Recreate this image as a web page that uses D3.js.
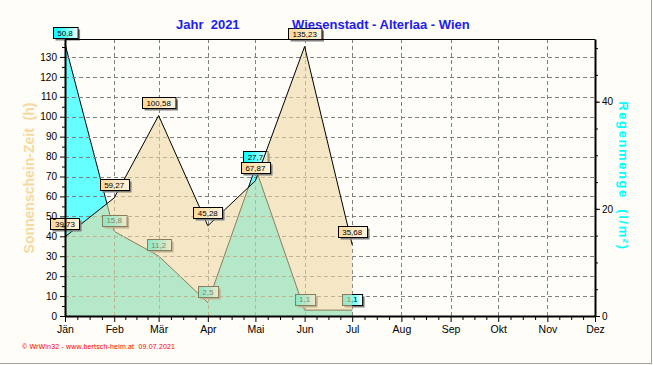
<!DOCTYPE html>
<html><head><meta charset="utf-8">
<script src="https://cdn.jsdelivr.net/npm/d3@7"></script>
<style>
html,body{margin:0;padding:0;background:#FEFDF8;}
svg{display:block;font-family:Arial,"Liberation Sans",sans-serif;}
</style></head>
<body>
<svg id="c" width="653" height="365"></svg>
<script>
// ---- data ----
const months = ["Jän","Feb","Mär","Apr","Mai","Jun","Jul","Aug","Sep","Okt","Nov","Dez"];
const sunshine = [39.73, 59.27, 100.58, 45.28, 67.87, 135.23, 35.68];   // hours, left axis
const rain = [50.8, 15.8, 11.2, 2.5, 27.7, 1.1, 1.1];                    // l/m², right axis
const sunshineLabels = ["39,73","59,27","100,58","45,28","67,87","135,23","35,68"];
const rainLabels = ["50,8","15,8","11,2","2,5","27,7","1,1","1,1"];
const leftTicks = [0,10,20,30,40,50,60,70,80,90,100,110,120,130];
const rightTicks = [0,20,40];
const titleLeft = "Jahr  2021";
const titleRight = "Wiesenstadt - Alterlaa - Wien";
const footer = "© WrWin32 - www.bertsch-heim.at  09.07.2021";

const svg = d3.select("#c");
const L = 65, R = 595, T = 39, B = 316;
const monthDates = months.map((m,i)=>new Date(2021,i,1));
const x = d3.scaleTime().domain([monthDates[0], monthDates[11]]).range([L,R]);
const yL = d3.scaleLinear().domain([0,139]).range([B,T]);
const yR = d3.scaleLinear().domain([0,51.7]).range([B,T]);

svg.append("rect").attr("width",653).attr("height",365).attr("fill","#FEFDF8");

const defs = svg.append("defs");
const gS = defs.append("linearGradient").attr("id","gS");
gS.append("stop").attr("offset","0").attr("stop-color","#FFD899");
gS.append("stop").attr("offset","1").attr("stop-color","#FFF4DE");
const gR = defs.append("linearGradient").attr("id","gR");
gR.append("stop").attr("offset","0").attr("stop-color","#00FFFF");
gR.append("stop").attr("offset","0.6").attr("stop-color","#7FFFFF");
gR.append("stop").attr("offset","1").attr("stop-color","#FFFFFF");

// rain area (cyan)
const rainPts = rain.map((v,i)=>({d:monthDates[i], v}));
svg.append("path").datum(rainPts)
  .attr("d", d3.area().x(d=>x(d.d)).y0(yR(0)).y1(d=>yR(d.v)))
  .attr("fill","#66FFFF");
svg.append("path").datum(rainPts)
  .attr("d", d3.line().x(d=>x(d.d)).y(d=>yR(d.v)))
  .attr("fill","none").attr("stroke","#000").attr("stroke-width",1);

// grid
const grid = svg.append("g").attr("stroke","#808080").attr("stroke-dasharray","4,3").attr("stroke-width",1);
leftTicks.filter(t=>t>0).forEach(t=>{
  grid.append("line").attr("x1",L).attr("x2",R).attr("y1",Math.round(yL(t))+0.5).attr("y2",Math.round(yL(t))+0.5);
});
monthDates.slice(1,11).forEach(d=>{
  grid.append("line").attr("y1",T).attr("y2",B).attr("x1",Math.round(x(d))+0.5).attr("x2",Math.round(x(d))+0.5);
});

function labels(vals, txts, scale, off, fill){
  const g = svg.append("g");
  vals.forEach((v,i)=>{
    const cx = x(monthDates[i]), cy = scale(v)-off;
    const t = g.append("text").attr("font-size","8px").attr("text-anchor","middle")
      .attr("x",cx).attr("y",cy+3).attr("fill","#000").text(txts[i]);
    const w = t.node().getComputedTextLength()+9, h = 11;
    g.insert("rect", function(){return t.node();}).attr("x",Math.round(cx-w/2)+2.5).attr("y",Math.round(cy-h/2)+2.5)
      .attr("width",w).attr("height",h).attr("fill","#808080");
    g.insert("rect", function(){return t.node();}).attr("x",Math.round(cx-w/2)+0.5).attr("y",Math.round(cy-h/2)+0.5)
      .attr("width",w).attr("height",h).attr("fill",fill).attr("stroke","#000");
  });
}
// rain labels (under overlay)
labels(rain, rainLabels, yR, 11, "url(#gR)");

// sunshine area overlay
const sunPts = sunshine.map((v,i)=>({d:monthDates[i], v}));
svg.append("path").datum(sunPts)
  .attr("d", d3.area().x(d=>x(d.d)).y0(yL(0)).y1(d=>yL(d.v)))
  .attr("fill","rgb(238,216,160)").attr("fill-opacity",0.58);
svg.append("path").datum(sunPts)
  .attr("d", d3.line().x(d=>x(d.d)).y(d=>yL(d.v)))
  .attr("fill","none").attr("stroke","#000").attr("stroke-width",1);

labels(sunshine, sunshineLabels, yL, 13, "url(#gS)");

// axes
const axStyle = g=>{
  g.selectAll("text").attr("fill","#000").attr("font-family","Arial,'Liberation Sans',sans-serif");
  g.selectAll("line").attr("stroke","#000");
};
// left
svg.append("g").attr("transform",`translate(${L},0)`)
  .call(d3.axisLeft(yL).tickValues(d3.range(5,139,10)).tickSize(3).tickFormat(""))
  .call(g=>g.select(".domain").remove()).call(axStyle);
svg.append("g").attr("transform",`translate(${L},0)`)
  .call(d3.axisLeft(yL).tickValues(leftTicks).tickSize(5).tickPadding(3).tickSizeOuter(0))
  .call(g=>g.selectAll("text").attr("font-size","10px"))
  .call(g=>g.select(".domain").attr("stroke","#000").attr("stroke-width",2))
  .call(axStyle);
// bottom minor
const minor = [];
for(let i=0;i<11;i++){ const a=+monthDates[i], b=+monthDates[i+1]; for(let k=1;k<4;k++) minor.push(new Date(a+(b-a)*k/4)); }
svg.append("g").attr("transform",`translate(0,${B})`)
  .call(d3.axisBottom(x).tickValues(minor).tickSize(4).tickFormat(""))
  .call(g=>g.select(".domain").remove()).call(axStyle);
svg.append("g").attr("transform",`translate(0,${B})`)
  .call(d3.axisBottom(x).tickValues(monthDates).tickSize(6).tickPadding(4).tickSizeOuter(0).tickFormat((d,i)=>months[i]))
  .call(g=>g.selectAll("text").attr("font-size","10.5px"))
  .call(g=>g.select(".domain").attr("stroke","#000").attr("stroke-width",2))
  .call(axStyle);
// right
svg.append("g").attr("transform",`translate(${R},0)`)
  .call(d3.axisRight(yR).tickValues(d3.range(5,51,5)).tickSize(3).tickFormat(""))
  .call(g=>g.select(".domain").remove()).call(axStyle);
svg.append("g").attr("transform",`translate(${R},0)`)
  .call(d3.axisRight(yR).tickValues(rightTicks).tickSize(5).tickPadding(2).tickSizeOuter(0))
  .call(g=>g.selectAll("text").attr("font-size","10px"))
  .call(g=>g.select(".domain").attr("stroke","#000").attr("stroke-width",2))
  .call(axStyle);
// top border
svg.append("line").attr("x1",L).attr("x2",R).attr("y1",T+0.5).attr("y2",T+0.5).attr("stroke","#000");

// titles
svg.append("text").attr("x",176).attr("y",29).attr("font-size","13px").attr("font-weight","bold")
  .attr("fill","#2020F0").style("white-space","pre").text(titleLeft);
svg.append("text").attr("x",292).attr("y",29).attr("font-size","13px").attr("font-weight","bold")
  .attr("fill","#2020F0").text(titleRight);

// axis titles
svg.append("text").attr("transform","translate(34,178) rotate(-90)").attr("text-anchor","middle")
  .attr("font-size","14px").attr("font-weight","bold").attr("fill","#F5D9A0").style("white-space","pre")
  .text("Sonnenschein-Zeit  (h)");
svg.append("text").attr("transform","translate(619,176) rotate(90)").attr("text-anchor","middle")
  .attr("font-size","13px").attr("font-weight","bold").attr("fill","#00FFFF").attr("letter-spacing","1.6px")
  .style("white-space","pre").text("Regenmenge  (l/m²)");

// footer
svg.append("text").attr("x",22).attr("y",349).attr("font-size","7px").attr("fill","#FF0000")
  .attr("textLength",153).style("white-space","pre").text(footer);

// frame
svg.append("line").attr("x1",651.5).attr("x2",651.5).attr("y1",0).attr("y2",364).attr("stroke","#A0A0A0");
svg.append("line").attr("x1",0).attr("x2",652).attr("y1",363.5).attr("y2",363.5).attr("stroke","#A0A0A0");
</script>
</body></html>
